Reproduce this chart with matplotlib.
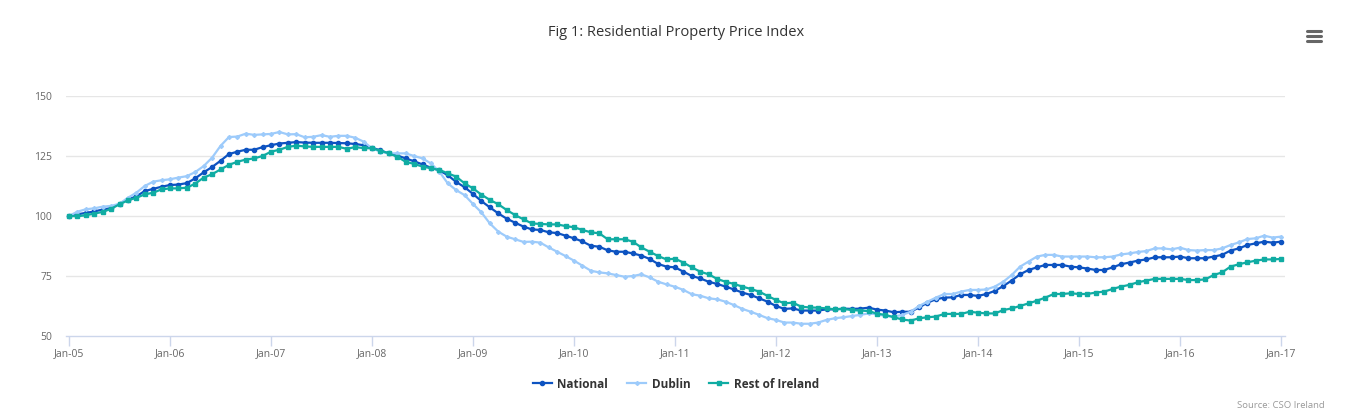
import numpy as np
import matplotlib
matplotlib.use("Agg")
import matplotlib.pyplot as plt
from matplotlib.lines import Line2D

# ---- data (monthly index, Jan 2005 = 100) ----------------------------------
national = [
    100.0, 100.7, 101.3, 101.9, 102.7, 103.3, 105.1, 106.8, 108.2, 110.4, 111.3, 112.2,
    112.9, 113.1, 113.7, 115.7, 118.2, 120.4, 123.0, 125.8, 126.8, 127.6, 127.6, 128.7,
    129.5, 130.2, 130.5, 130.8, 130.6, 130.5, 130.5, 130.5, 130.4, 130.3, 130.0, 129.5,
    128.5, 127.3, 126.1, 125.2, 124.0, 122.8, 121.5, 120.1, 119.0, 117.0, 114.2, 112.0,
    109.2, 106.2, 103.6, 101.1, 98.9, 97.2, 95.6, 94.4, 94.2, 93.2, 92.9, 91.8,
    90.7, 89.4, 87.6, 87.2, 85.7, 85.1, 85.1, 84.4, 83.5, 82.1, 80.0, 78.9,
    78.6, 76.8, 75.0, 74.0, 72.6, 71.7, 70.6, 69.4, 68.1, 67.1, 65.7, 64.3,
    62.5, 61.3, 61.5, 60.6, 60.6, 60.6, 61.1, 61.1, 61.4, 61.3, 61.4, 61.8,
    61.0, 60.6, 59.9, 60.1, 60.1, 61.9, 63.9, 65.3, 66.0, 66.1, 67.1, 67.1,
    66.7, 67.5, 68.8, 70.8, 73.1, 75.7, 77.5, 78.6, 79.6, 79.6, 79.6, 78.9,
    78.6, 78.1, 77.5, 77.5, 78.6, 79.9, 80.6, 81.4, 81.9, 82.8, 82.8, 82.8,
    83.1, 82.4, 82.4, 82.4, 83.1, 83.8, 85.6, 86.5, 87.9, 88.6, 89.3, 88.9,
    89.3,
]
dublin = [
    100.0, 101.8, 102.8, 103.2, 103.9, 104.2, 105.1, 107.6, 109.7, 112.5, 114.3, 114.9,
    115.3, 116.0, 116.6, 118.3, 120.8, 124.3, 129.2, 132.9, 133.1, 134.3, 133.8, 134.0,
    134.2, 135.0, 134.0, 134.1, 132.8, 133.0, 133.7, 133.0, 133.4, 133.4, 132.6, 131.0,
    128.2, 126.8, 126.1, 126.1, 126.1, 125.0, 124.0, 121.9, 118.5, 113.6, 110.8, 108.7,
    105.0, 101.5, 96.9, 93.5, 91.4, 90.3, 89.2, 89.3, 88.9, 86.9, 85.1, 83.3,
    81.4, 79.3, 77.2, 76.5, 76.1, 75.4, 74.7, 75.0, 75.7, 74.4, 72.6, 71.5,
    70.5, 69.2, 67.4, 66.8, 65.7, 65.3, 64.3, 62.9, 61.3, 60.1, 58.8, 57.4,
    56.7, 55.6, 55.6, 55.1, 55.1, 55.6, 56.7, 57.4, 57.8, 58.3, 58.8, 59.4,
    59.1, 58.3, 58.1, 58.8, 60.1, 62.5, 64.3, 66.0, 67.5, 67.5, 68.5, 69.2,
    69.2, 69.4, 70.6, 72.6, 75.4, 78.9, 81.0, 83.1, 83.8, 83.8, 83.1, 83.1,
    83.1, 83.1, 82.8, 82.8, 83.1, 84.0, 84.4, 85.0, 85.4, 86.5, 86.5, 86.1,
    86.8, 85.8, 85.6, 85.8, 85.8, 86.5, 87.9, 89.0, 90.4, 90.7, 91.8, 91.0,
    91.4,
]
rest_of_ireland = [
    100.0, 99.9, 100.3, 101.0, 101.7, 103.0, 104.9, 106.5, 107.6, 109.0, 109.7, 111.1,
    111.5, 111.5, 111.8, 113.5, 116.0, 117.4, 119.4, 121.3, 122.6, 123.5, 124.0, 125.0,
    126.8, 127.6, 128.8, 129.3, 129.0, 128.8, 128.8, 128.8, 128.8, 128.0, 128.7, 128.3,
    128.2, 127.2, 126.1, 124.7, 122.6, 121.7, 120.6, 119.9, 119.2, 117.8, 116.4, 113.6,
    111.5, 108.9, 106.7, 104.9, 102.5, 100.4, 98.6, 96.9, 96.7, 96.5, 96.5, 95.8,
    95.3, 94.2, 93.2, 92.8, 90.3, 90.3, 90.3, 89.3, 86.9, 85.1, 83.3, 81.9,
    82.2, 80.6, 78.6, 76.8, 75.7, 73.8, 72.6, 71.7, 70.6, 69.6, 68.5, 66.7,
    65.0, 63.6, 63.9, 62.2, 61.9, 61.8, 61.5, 61.1, 61.3, 60.8, 60.6, 60.4,
    59.3, 58.8, 57.8, 56.9, 56.4, 57.4, 57.8, 58.1, 59.2, 59.2, 59.2, 60.1,
    59.7, 59.4, 59.4, 60.8, 61.5, 62.5, 63.6, 64.7, 66.0, 67.5, 67.5, 67.8,
    67.5, 67.5, 68.1, 68.5, 69.6, 70.6, 71.3, 72.4, 73.1, 73.8, 73.8, 73.8,
    73.8, 73.3, 73.3, 73.6, 75.4, 76.5, 78.9, 79.9, 80.7, 81.4, 81.9, 81.9,
    82.1,
]
tick_labels = ["Jan-05", "Jan-06", "Jan-07", "Jan-08", "Jan-09", "Jan-10", "Jan-11",
               "Jan-12", "Jan-13", "Jan-14", "Jan-15", "Jan-16", "Jan-17"]
y_ticks = [50, 75, 100, 125, 150]

COLORS = {
    "National": "#0D53C1",
    "Dublin": "#9DCBFB",
    "Rest of Ireland": "#10ACA3",
}
MARKERS = {"National": ("o", 3.0), "Dublin": ("D", 2.0), "Rest of Ireland": ("s", 3.3)}

plt.rcParams["font.family"] = ["Open Sans", "DejaVu Sans"]

W, H = 1352, 418
fig = plt.figure(figsize=(W / 100, H / 100), dpi=100)
ax = fig.add_axes([66 / W, 1 - 336 / H, (1285 - 66) / W, (336 - 96) / H])

months = np.arange(len(national))
for name, vals in [("National", national), ("Dublin", dublin),
                   ("Rest of Ireland", rest_of_ireland)]:
    m, ms = MARKERS[name]
    ax.plot(months, vals, color=COLORS[name], lw=1.6, marker=m, ms=ms,
            mec=COLORS[name], mfc=COLORS[name], label=name, clip_on=False)

px_month = (1281 - 69) / 144
ax.set_xlim(-3 / px_month, 144 + 4 / px_month)
ax.set_ylim(50, 150)
ax.set_xticks(np.arange(0, 145, 12))
ax.set_xticklabels(tick_labels)
ax.set_yticks(y_ticks)
ax.set_yticklabels([str(v) for v in y_ticks])

for v in y_ticks[1:]:
    ax.axhline(v, color="#e6e6e6", lw=1, zorder=0)
for s in ["top", "right", "left"]:
    ax.spines[s].set_visible(False)
ax.spines["bottom"].set_color("#ccd6eb")
ax.spines["bottom"].set_linewidth(1)

ax.tick_params(axis="x", length=7.5, width=1, color="#ccd6eb", labelsize=7.5,
               labelcolor="#666666", pad=1.5)
ax.tick_params(axis="y", length=0, labelsize=7.5, labelcolor="#666666", pad=10)

fig.text(0.5, 1 - 32 / H, "Fig 1: Residential Property Price Index",
         ha="center", va="center", fontsize=10.5, color="#333333")

leg = fig.legend(loc="center", bbox_to_anchor=(0.5, 1 - 384 / H), ncol=3,
                 frameon=False, fontsize=8.5, handlelength=1.6, handletextpad=0.5,
                 columnspacing=1.6, numpoints=1)
for t in leg.get_texts():
    t.set_fontweight("bold")
    t.set_color("#333333")

fig.text(1325 / W, 1 - 406 / H, "Source: CSO Ireland", ha="right", va="center",
         fontsize=6.8, color="#999999")

# hamburger menu icon
for yy in (31, 36, 41):
    fig.add_artist(Line2D([1307 / W, 1321 / W], [1 - yy / H, 1 - yy / H],
                          transform=fig.transFigure, color="#666666", lw=2.2,
                          solid_capstyle="round"))

fig.savefig("out.png", dpi=100)
